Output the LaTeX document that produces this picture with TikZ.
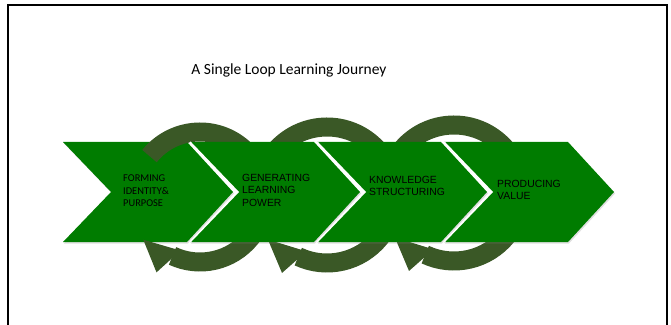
\documentclass[tikz,border=0pt]{standalone}
\usepackage{fontspec}
\setmainfont{Liberation Sans}
\newfontfamily\calibri{Carlito}
\usetikzlibrary{shadows}
\definecolor{chevgreen}{RGB}{0,124,0}
\definecolor{loopgreen}{RGB}{58,88,38}

% one circular arrow: centre x, centre y, radius
\newcommand{\loopring}[3]{%
  \begin{scope}[shift={(#1,#2)}]
    \draw[ring] (141:#3) arc[start angle=141, end angle=-115, radius=#3];
    \fill[loopgreen] (217:#3+6) -- (240:#3+22) -- (250:#3-8) -- cycle;
  \end{scope}
}

\begin{document}
\begin{tikzpicture}[x=1pt, y=1pt,
    chevron/.style={fill=chevgreen, drop shadow={opacity=0.25, shadow xshift=1pt, shadow yshift=-1.5pt}},
    seam/.style={draw=white, line width=1.5pt},
    ring/.style={draw=loopgreen, line width=19pt},
    steplabel/.style={anchor=west, align=left, inner sep=0pt, font=\fontsize{10.4}{12.5}\selectfont}]
  \useasboundingbox (0,0) rectangle (671,324);
  \draw[line width=2.5pt] (8,-10) rectangle (667,319);

  % loops behind the arrows
  \loopring{327}{129}{68}
  \loopring{454}{131}{68}

  % first arrow, then its loop on top
  \fill[chevron] (63,182) -- (187,182) -- (233,132) -- (187,82) -- (63,82) -- (111,132) -- cycle;
  \loopring{200}{127}{65}

  \foreach \dx in {127,254,381} {
      \fill[chevron] (63+\dx,182) -- (187+\dx,182) -- (233+\dx,132) -- (187+\dx,82) -- (63+\dx,82) -- (111+\dx,132) -- cycle;
      \draw[seam] (63+\dx,182) -- (111+\dx,132) -- (63+\dx,82);
    }

  \node[steplabel, font=\calibri\fontsize{10.4}{12.5}\selectfont] (forming) at (123,133) {FORMING\\IDENTITY\&\\PURPOSE};
  \node[steplabel] (generating) at (242,134) {GENERATING\\LEARNING\\POWER};
  \node[steplabel] (knowledge) at (369,138) {KNOWLEDGE\\STRUCTURING};
  \node[steplabel] (producing) at (497,134) {PRODUCING\\VALUE};

  \node[anchor=base, font=\calibri\fontsize{15.5}{18}\selectfont] (title) at (289,249) {A Single Loop Learning Journey};
\end{tikzpicture}
\end{document}
